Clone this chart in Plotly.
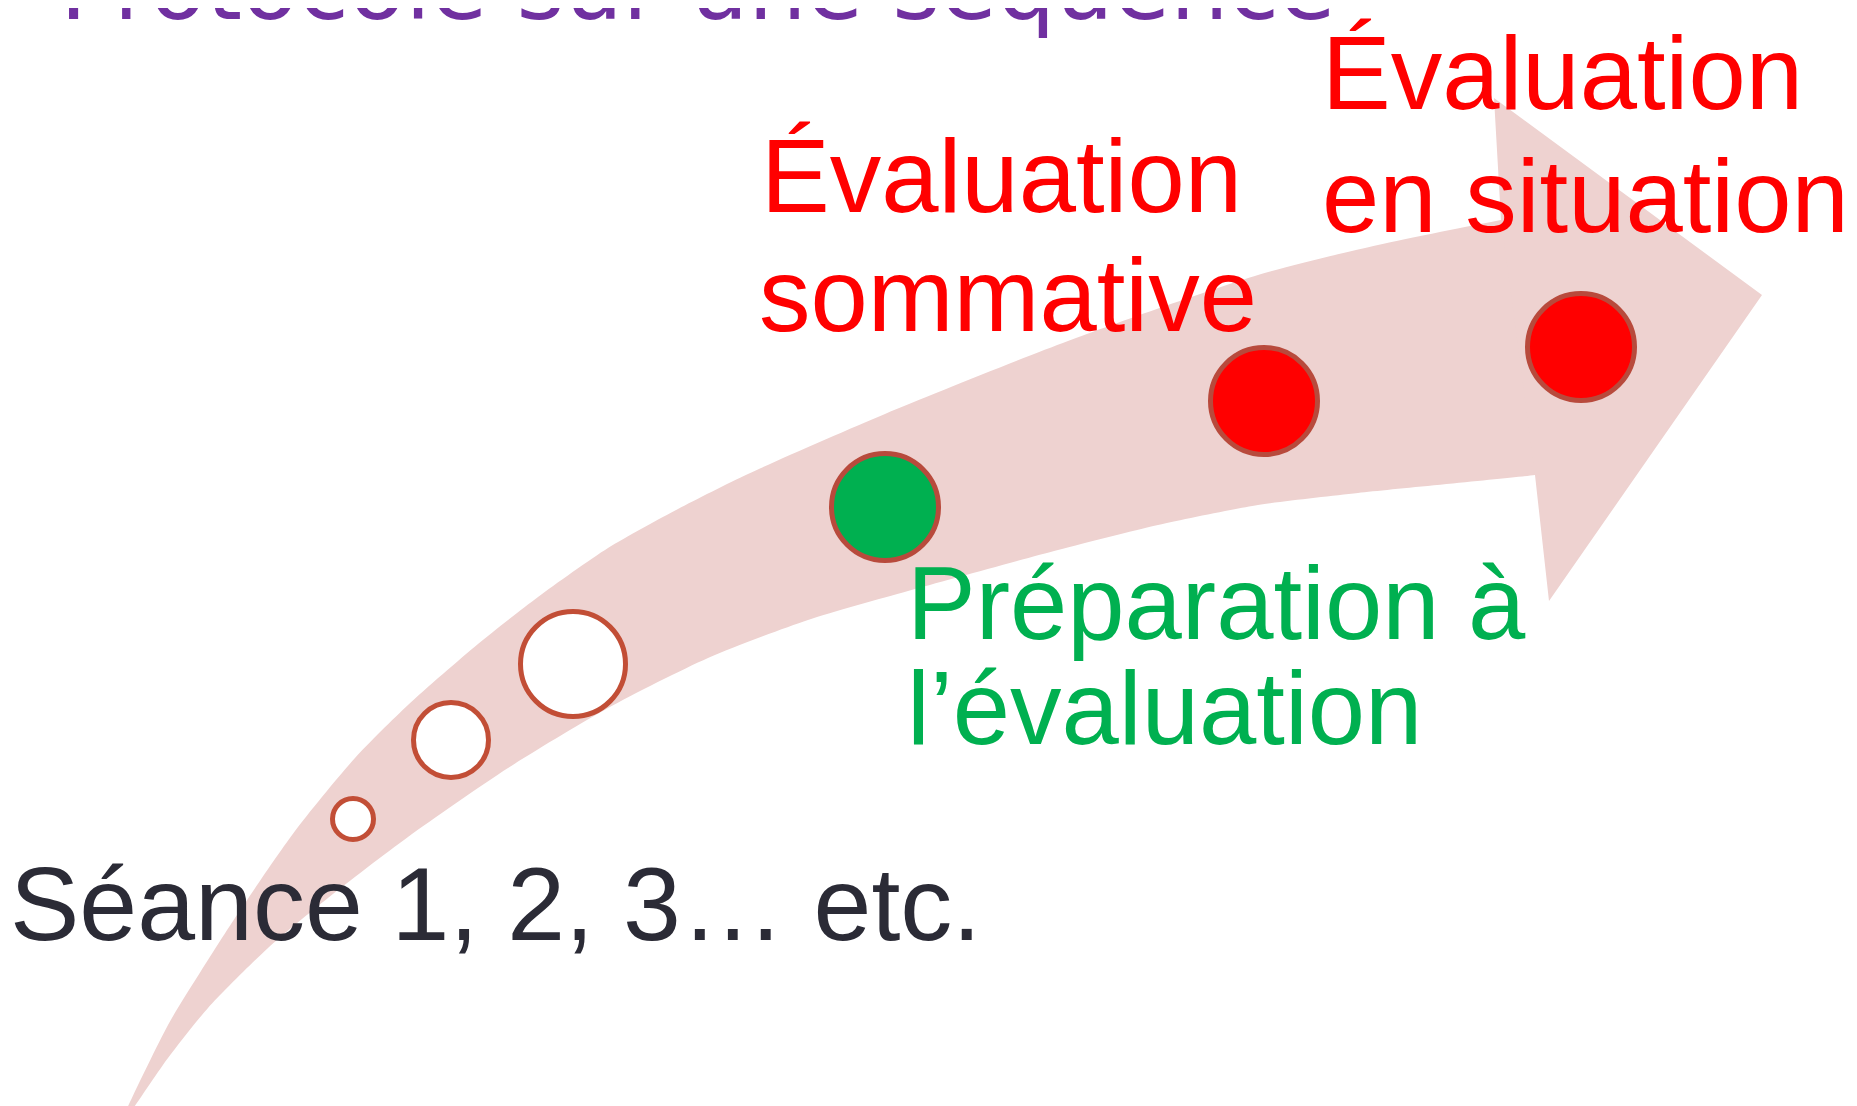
import plotly.graph_objects as go

W, H = 1857, 1106

# Arrow body edges (pixel coordinates)
upper_x = [112, 160, 193, 227, 287, 347, 400, 470, 530, 600, 670, 740, 877, 1060, 1250, 1370, 1493, 1560]
upper_y = [1118, 1017, 963, 910, 823, 750, 697, 636, 589, 540, 501, 466, 406, 333, 267, 237, 212, 200]
lower_x = [1560, 1527, 1350, 1250, 1150, 1050, 900, 800, 700, 600, 500, 400, 320, 260, 200, 160, 112]
lower_y = [462, 467, 485, 497, 517, 542, 583, 612, 650, 700, 760, 829, 890, 940, 1000, 1050, 1118]

# Arrow head
head_x = [1486, 1754, 1541, 1527, 1493]
head_y = [90, 287, 593, 467, 212]

# Step circles
step_x = [345, 443, 565, 877, 1256, 1573]
step_y = [811, 732, 656, 499, 393, 339]
step_size = [41, 75, 105, 107, 107, 107]
step_fill = ["#FFFFFF", "#FFFFFF", "#FFFFFF", "#00B050", "#FF0000", "#FF0000"]
step_line = ["#C24E36", "#C24E36", "#C24E36", "#B84A3C", "#B84A3C", "#B84A3C"]

# Text labels: (text, left x, baseline y, size, color)
label_text = ["Séance 1, 2, 3… etc.", "Évaluation", "sommative", "Évaluation", "en situation",
              "Préparation à", "l’évaluation"]
label_x = [2, 753, 751, 1314, 1314, 899, 899]
label_base = [940, 212, 331, 109, 232, 639, 744]
label_size = [104, 103, 103, 103, 103, 103, 103]
label_color = ["#2B2B36", "#FF0000", "#FF0000", "#FF0000", "#FF0000", "#00B050", "#00B050"]

title_text = "Protocole sur une séquence"
title_x = 50
title_base = 12
title_size = 92

PINK = "#EED2D0"

fig = go.Figure()

fig.add_trace(go.Scatter(x=upper_x + lower_x, y=upper_y + lower_y, mode="lines", fill="toself",
                         fillcolor=PINK, line=dict(width=0, color=PINK, shape="spline", smoothing=0.7),
                         hoverinfo="skip", showlegend=False))
fig.add_trace(go.Scatter(x=head_x, y=head_y, mode="lines", fill="toself",
                         fillcolor=PINK, line=dict(width=0, color=PINK),
                         hoverinfo="skip", showlegend=False))

fig.add_trace(go.Scatter(x=step_x, y=step_y, mode="markers",
                         marker=dict(size=step_size, color=step_fill, opacity=1,
                                     line=dict(color=step_line, width=5)),
                         hoverinfo="skip", showlegend=False))

for t, x, b, s, c in zip(label_text, label_x, label_base, label_size, label_color):
    fig.add_trace(go.Scatter(x=[x], y=[b - 0.33 * s], mode="text", text=[t],
                             textposition="middle right",
                             textfont=dict(family="Liberation Sans, Arial, sans-serif", size=s, color=c),
                             cliponaxis=False, hoverinfo="skip", showlegend=False))

fig.add_annotation(x=title_x, y=title_base + 0.236 * title_size + 1, xref="x", yref="y",
                   xanchor="left", yanchor="bottom", showarrow=False, text=title_text,
                   font=dict(family="DejaVu Sans", size=title_size, color="#7030A0"))

fig.update_layout(width=W, height=H, margin=dict(l=0, r=0, t=0, b=0),
                  paper_bgcolor="white", plot_bgcolor="white",
                  xaxis=dict(range=[0, W], visible=False, fixedrange=True),
                  yaxis=dict(range=[H, 0], visible=False, fixedrange=True))

fig.write_html("out.html", config={"displayModeBar": False})
